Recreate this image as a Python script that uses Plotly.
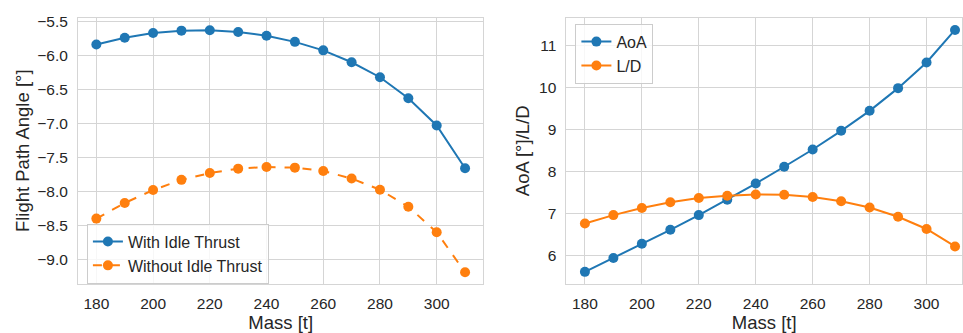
import plotly.graph_objects as go

mass = [180, 190, 200, 210, 220, 230, 240, 250, 260, 270, 280, 290, 300, 310]
fpa_idle = [-5.84, -5.74, -5.67, -5.635, -5.63, -5.655, -5.71, -5.80, -5.925, -6.10, -6.32, -6.63, -7.03, -7.66]
fpa_no_idle = [-8.40, -8.17, -7.98, -7.83, -7.73, -7.665, -7.64, -7.65, -7.70, -7.81, -7.975, -8.225, -8.60, -9.19]
aoa = [5.62, 5.95, 6.29, 6.62, 6.97, 7.335, 7.72, 8.12, 8.53, 8.975, 9.45, 9.99, 10.60, 11.375]
ld = [6.77, 6.97, 7.14, 7.275, 7.375, 7.43, 7.46, 7.455, 7.40, 7.30, 7.15, 6.93, 6.64, 6.225]

BLUE = "#1f77b4"
ORANGE = "#ff7f0e"
GRID = "#d5d5d5"
TXT = "#262626"
FONT = "Liberation Sans, Arial, sans-serif"

fig = go.Figure()
mk = dict(size=10)
fig.add_trace(go.Scatter(x=mass, y=fpa_idle, mode="lines+markers", name="With Idle Thrust",
                         line=dict(color=BLUE, width=2), marker=dict(color=BLUE, **mk),
                         xaxis="x", yaxis="y", legend="legend", cliponaxis=False))
fig.add_trace(go.Scatter(x=mass, y=fpa_no_idle, mode="lines+markers", name="Without Idle Thrust",
                         line=dict(color=ORANGE, width=2, dash="dash"), marker=dict(color=ORANGE, **mk),
                         xaxis="x", yaxis="y", legend="legend", cliponaxis=False))
fig.add_trace(go.Scatter(x=mass, y=aoa, mode="lines+markers", name="AoA",
                         line=dict(color=BLUE, width=2), marker=dict(color=BLUE, **mk),
                         xaxis="x2", yaxis="y2", legend="legend2", cliponaxis=False))
fig.add_trace(go.Scatter(x=mass, y=ld, mode="lines+markers", name="L/D",
                         line=dict(color=ORANGE, width=2), marker=dict(color=ORANGE, **mk),
                         xaxis="x2", yaxis="y2", legend="legend2", cliponaxis=False))

W, H = 963, 333
ydom = [1 - 283 / H, 1 - 13 / H]

axis_common = dict(showgrid=True, gridcolor=GRID, gridwidth=1, zeroline=False,
                   showline=True, linecolor=GRID, linewidth=1, mirror=True,
                   ticks="outside", ticklen=6, tickcolor="rgba(0,0,0,0)",
                   tickfont=dict(size=15.5, color=TXT, family=FONT))
TITLE_FONT = dict(size=18.5, color=TXT, family=FONT)
LEG_FONT = dict(size=16, color=TXT, family=FONT)

fig.update_layout(
    width=W, height=H, margin=dict(l=0, r=0, t=0, b=0),
    paper_bgcolor="white", plot_bgcolor="white",
    font=dict(family=FONT, color=TXT),
    xaxis=dict(domain=[78 / W, 484 / W], range=[173.5, 316.5], anchor="y",
               tickvals=[180, 200, 220, 240, 260, 280, 300],
               title=dict(text="Mass [t]", font=TITLE_FONT, standoff=1), **axis_common),
    yaxis=dict(domain=ydom, range=[-9.358, -5.446], anchor="x",
               tickvals=[-9.0, -8.5, -8.0, -7.5, -7.0, -6.5, -6.0, -5.5], tickformat=".1f",
               title=dict(text="Flight Path Angle [°]", font=TITLE_FONT, standoff=2), **axis_common),
    xaxis2=dict(domain=[567 / W, 1.0], range=[173.5, 312.45], anchor="y2",
                tickvals=[180, 200, 220, 240, 260, 280, 300],
                title=dict(text="Mass [t]", font=TITLE_FONT, standoff=1), **axis_common),
    yaxis2=dict(domain=ydom, range=[5.337, 11.663], anchor="x2",
                tickvals=[6, 7, 8, 9, 10, 11],
                title=dict(text="AoA [°]/L/D", font=TITLE_FONT, standoff=4), **axis_common),
    legend=dict(x=87 / W, y=1 - 222 / H, xanchor="left", yanchor="top",
                bgcolor="rgba(255,255,255,0.8)", bordercolor="#cccccc", borderwidth=1,
                font=LEG_FONT, tracegroupgap=0, itemwidth=30),
    legend2=dict(x=576 / W, y=1 - 19 / H, xanchor="left", yanchor="top",
                 bgcolor="rgba(255,255,255,0.8)", bordercolor="#cccccc", borderwidth=1,
                 font=LEG_FONT, tracegroupgap=0, itemwidth=30),
    showlegend=True,
)

fig.write_html("out.html")
